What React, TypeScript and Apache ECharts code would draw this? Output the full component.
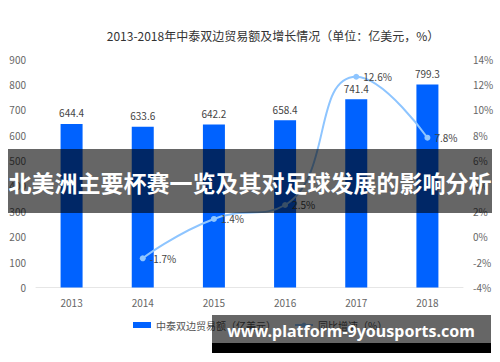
import React, { useEffect, useRef } from "react";
import * as echarts from "echarts";

const title = "2013-2018年中泰双边贸易额及增长情况（单位：亿美元，%）";
const years = ["2013", "2014", "2015", "2016", "2017", "2018"];
const tradeValues = [644.4, 633.6, 642.2, 658.4, 741.4, 799.3];
const growthRates: (number | null)[] = [null, -1.7, 1.4, 2.5, 12.6, 7.8];
const barName = "中泰双边贸易额（亿美元）";
const lineName = "同比增速（%）";
const bannerText = "北美洲主要杯赛一览及其对足球发展的影响分析";
const watermarkText = "www.platform-9yousports.com";

export default function App() {
  const ref = useRef<HTMLDivElement>(null);
  useEffect(() => {
    if (!ref.current) return;
    const chart = echarts.init(ref.current, null, { renderer: "svg" });
    const font = '"Noto Sans CJK SC", "Noto Sans", sans-serif';
    chart.setOption({
      animation: false,
      backgroundColor: "#ffffff",
      textStyle: { fontFamily: font },
      title: {
        text: title,
        left: 268,
        textAlign: "center",
        top: 24,
        textStyle: { fontSize: 12, color: "#333", fontWeight: "normal", fontFamily: font },
      },
      grid: { left: 36, right: 37, top: 59, bottom: 74.5, containLabel: false },
      legend: {
        left: 128,
        top: 315,
        itemWidth: 18,
        itemHeight: 6,
        itemGap: 18,
        textStyle: { fontSize: 10, color: "#555", fontFamily: font },
        data: [
          { name: barName, icon: "rect" },
          { name: lineName },
        ],
      },
      xAxis: {
        type: "category",
        data: years,
        axisLine: { lineStyle: { color: "#e6e6e6" } },
        axisTick: { show: false },
        axisLabel: { color: "#666", fontSize: 10, margin: 10 },
      },
      yAxis: [
        {
          type: "value",
          min: 0,
          max: 900,
          interval: 100,
          axisLine: { show: false },
          axisTick: { show: false },
          splitLine: { show: false },
          axisLabel: { color: "#666", fontSize: 10, margin: 10 },
        },
        {
          type: "value",
          min: -4,
          max: 14,
          interval: 2,
          axisLine: { show: false },
          axisTick: { show: false },
          splitLine: { show: false },
          axisLabel: { color: "#666", fontSize: 10, margin: 10, formatter: "{value}%" },
        },
      ],
      series: [
        {
          name: barName,
          type: "bar",
          data: tradeValues,
          barWidth: 22,
          itemStyle: { color: "#0062ff" },
          label: { show: true, position: "top", color: "#444", fontSize: 10, distance: 6 },
          z: 2,
        },
        {
          name: lineName,
          type: "line",
          yAxisIndex: 1,
          data: growthRates,
          smooth: true,
          symbol: "circle",
          symbolSize: 6,
          lineStyle: { color: "#8ec5ff", width: 2 },
          itemStyle: { color: "#8ec5ff" },
          label: {
            show: true,
            position: "right",
            color: "#444",
            fontSize: 10,
            distance: 4,
            formatter: (p: any) => p.value + "%",
          },
          z: 3,
        },
      ],
      graphic: [
        {
          type: "rect",
          shape: { x: 8, y: 149, width: 484, height: 64 },
          style: { fill: "rgba(0,0,0,0.6)" },
          z: 100,
        },
        {
          type: "text",
          x: 250,
          y: 182,
          style: {
            text: bannerText,
            fill: "#ffffff",
            font: 'bold 23px "Noto Sans CJK SC", sans-serif',
            textAlign: "center",
            textVerticalAlign: "middle",
          },
          z: 101,
        },
        {
          type: "rect",
          shape: { x: 212, y: 315, width: 279, height: 28 },
          style: { fill: "rgba(0,0,0,0.6)" },
          z: 100,
        },
        {
          type: "rect",
          shape: { x: 212, y: 343, width: 279, height: 10 },
          style: { fill: "#000000" },
          z: 100,
        },
        {
          type: "text",
          x: 351,
          y: 331,
          style: {
            text: watermarkText,
            fill: "#ffffff",
            font: 'bold 16px "Noto Sans", sans-serif',
            textAlign: "center",
            textVerticalAlign: "middle",
          },
          z: 101,
        },
      ],
    });
    return () => chart.dispose();
  }, []);
  return (
    <div
      ref={ref}
      style={{ position: "absolute", left: 0, top: 0, width: 500, height: 362 }}
    />
  );
}
